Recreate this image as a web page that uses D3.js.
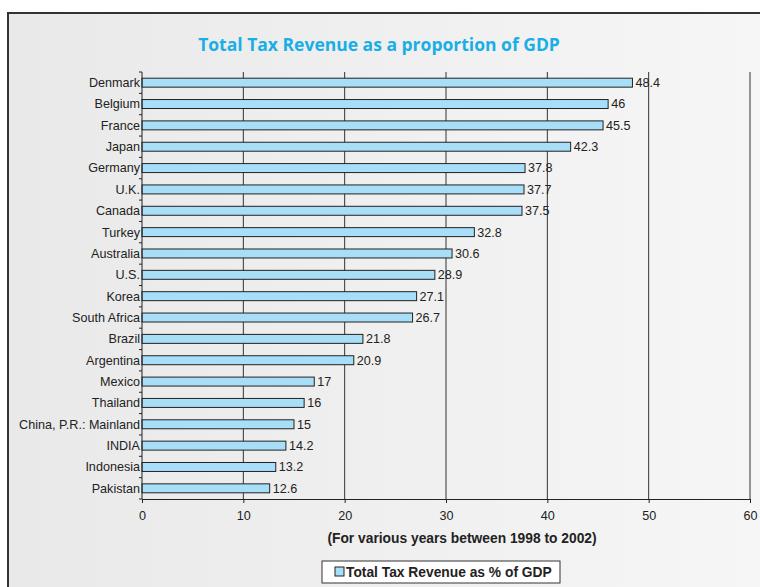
<!DOCTYPE html>
<html>
<head>
<meta charset="utf-8">
<script src="https://cdn.jsdelivr.net/npm/d3@7"></script>
<style>
  body { margin: 0; background: #fff; }
  svg { display: block; }
</style>
</head>
<body>
<svg width="760" height="587"></svg>
<script>
const countries = ["Denmark", "Belgium", "France", "Japan", "Germany", "U.K.", "Canada", "Turkey", "Australia", "U.S.",
    "Korea", "South Africa", "Brazil", "Argentina", "Mexico", "Thailand", "China, P.R.: Mainland", "INDIA", "Indonesia", "Pakistan"];
const taxShare = [48.4, 46, 45.5, 42.3, 37.8, 37.7, 37.5, 32.8, 30.6, 28.9,
    27.1, 26.7, 21.8, 20.9, 17, 16, 15, 14.2, 13.2, 12.6];
const xTicks = [0, 10, 20, 30, 40, 50, 60];

const svg = d3.select("svg");
const width = +svg.attr("width");
const height = +svg.attr("height");
const font = "'Liberation Sans', Arial, sans-serif";

const defs = svg.append("defs");
const grad = defs.append("linearGradient")
    .attr("id", "bg")
    .attr("x1", "0%").attr("y1", "0%")
    .attr("x2", "100%").attr("y2", "0%");
grad.append("stop").attr("offset", "0%").attr("stop-color", "#e9e9e9");
grad.append("stop").attr("offset", "100%").attr("stop-color", "#f6f6f6");

svg.append("rect")
    .attr("x", 8).attr("y", 13)
    .attr("width", width).attr("height", height)
    .attr("fill", "url(#bg)")
    .attr("stroke", "#333")
    .attr("stroke-width", 2);

svg.append("text")
    .attr("x", 379).attr("y", 51)
    .attr("text-anchor", "middle")
    .style("font-family", "'Open Sans', sans-serif")
    .style("font-weight", "bold")
    .style("font-size", "17.5px")
    .style("fill", "#1aaee6")
    .text("Total Tax Revenue as a proportion of GDP");

const x = d3.scaleLinear().domain([0, 60]).range([142, 750]);
const y = d3.scaleBand().domain(countries).range([72, 499]).paddingInner(0.58).paddingOuter(0.29);

// vertical gridlines
svg.append("g")
    .selectAll("line")
    .data(xTicks.slice(1))
    .join("line")
    .attr("x1", d => x(d)).attr("x2", d => x(d))
    .attr("y1", 72).attr("y2", 499)
    .attr("stroke", "#333")
    .attr("stroke-width", 1);

// bars
svg.append("g")
    .selectAll("rect")
    .data(countries)
    .join("rect")
    .attr("x", x(0))
    .attr("y", d => y(d))
    .attr("width", (d, i) => x(taxShare[i]) - x(0))
    .attr("height", y.bandwidth())
    .attr("fill", "#a8def7")
    .attr("stroke", "#222")
    .attr("stroke-width", 1);

// value labels
svg.append("g")
    .selectAll("text")
    .data(countries)
    .join("text")
    .attr("x", (d, i) => x(taxShare[i]) + 3)
    .attr("y", d => y(d) + y.bandwidth() / 2)
    .attr("dy", "0.35em")
    .style("font-family", font)
    .style("font-size", "12.6px")
    .style("fill", "#222")
    .text((d, i) => taxShare[i]);

// y axis: line + ticks at band boundaries
const yAxis = svg.append("g");
yAxis.append("line")
    .attr("x1", x(0)).attr("x2", x(0))
    .attr("y1", 72).attr("y2", 499)
    .attr("stroke", "#222");
yAxis.selectAll("line.tick")
    .data(d3.range(countries.length + 1))
    .join("line")
    .attr("class", "tick")
    .attr("x1", x(0) - 3).attr("x2", x(0))
    .attr("y1", i => 72 + i * y.step())
    .attr("y2", i => 72 + i * y.step())
    .attr("stroke", "#222");
yAxis.selectAll("text")
    .data(countries)
    .join("text")
    .attr("x", x(0) - 2)
    .attr("y", d => y(d) + y.bandwidth() / 2)
    .attr("dy", "0.35em")
    .attr("text-anchor", "end")
    .style("font-family", font)
    .style("font-size", "12.6px")
    .style("fill", "#222")
    .text(d => d);

// x axis
const xAxis = svg.append("g")
    .attr("transform", "translate(0,499)")
    .call(d3.axisBottom(x).tickValues(xTicks).tickSize(4).tickSizeOuter(0));
xAxis.select(".domain").attr("stroke", "#222");
xAxis.selectAll(".tick line").attr("stroke", "#222");
xAxis.selectAll(".tick text")
    .attr("y", 12)
    .style("font-family", font)
    .style("font-size", "12.6px")
    .style("fill", "#222");

svg.append("text")
    .attr("x", 462).attr("y", 543)
    .attr("text-anchor", "middle")
    .style("font-family", font)
    .style("font-weight", "bold")
    .style("font-size", "13.8px")
    .style("fill", "#222")
    .text("(For various years between 1998 to 2002)");

// legend
const legend = svg.append("g");
legend.append("rect")
    .attr("x", 322).attr("y", 561)
    .attr("width", 238).attr("height", 22)
    .attr("fill", "#fff")
    .attr("stroke", "#333");
legend.append("rect")
    .attr("x", 335).attr("y", 567)
    .attr("width", 9).attr("height", 9)
    .attr("fill", "#a8def7")
    .attr("stroke", "#222");
legend.append("text")
    .attr("x", 346).attr("y", 577)
    .style("font-family", font)
    .style("font-weight", "bold")
    .style("font-size", "13.8px")
    .style("fill", "#222")
    .text("Total Tax Revenue as % of GDP");
</script>
</body>
</html>
